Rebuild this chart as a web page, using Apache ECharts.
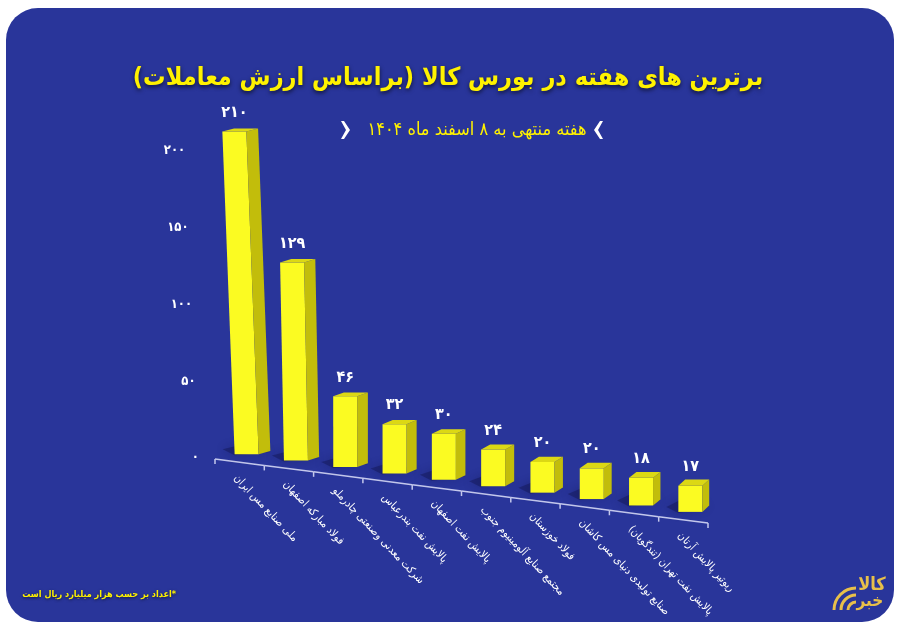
<!DOCTYPE html>
<html>
<head>
<meta charset="utf-8">
<script src="https://cdn.jsdelivr.net/npm/echarts@6/dist/echarts.min.js"></script>
<style>
  html, body { margin: 0; padding: 0; background: #fff; }
  #chart { width: 900px; height: 631px; }
</style>
</head>
<body>
<div id="chart"></div>
<script>
const categories = [
  'ملی صنایع مس ایران',
  'فولاد مبارکه اصفهان',
  'شرکت معدنی وصنعتی چادرملو',
  'پالایش نفت بندرعباس',
  'پالایش نفت اصفهان',
  'مجتمع صنایع آلومینیوم جنوب',
  'فولاد خوزستان',
  'صنایع تولیدی دنیای مس کاشان',
  'پالایش نفت تهران (تندگویان)',
  'ریوتیر پالایش آرتان'
]
const values = [210, 129, 46, 32, 30, 24, 20, 20, 18, 17]
const yTicks = [0, 50, 100, 150, 200]

const RLM = '\u200F'
const FONT = '"DejaVu Sans Condensed", "DejaVu Sans", sans-serif'
const SLOPE = 0.13

const toFa = (n) => String(n).replace(/\d/g, d => '۰۱۲۳۴۵۶۷۸۹'[d])

// slanted floor line of the chart
const axisY = (cs, x) => cs.y + cs.height + 1 + SLOPE * (x - cs.x)

const renderAxis = (params, api) => {
  const cs = params.coordSys
  const i = api.value(0)
  const band = api.size([1, 0])[0]
  const cx = api.coord([i, 0])[0]
  const x1 = cx - band / 2
  const x2 = cx + band / 2
  const stroke = { stroke: '#c4c8ec', lineWidth: 1.5 }
  const children = [
    { type: 'line', shape: { x1, y1: axisY(cs, x1), x2, y2: axisY(cs, x2) }, style: stroke },
    { type: 'line', shape: { x1: x2, y1: axisY(cs, x2), x2: x2, y2: axisY(cs, x2) + 5 }, style: stroke },
    {
      type: 'text',
      x: cx - 4,
      y: axisY(cs, cx) + 14,
      rotation: -Math.PI * 0.26,
      style: {
        text: RLM + categories[i] + RLM,
        fill: '#ffffff',
        font: '11px ' + FONT,
        align: 'left',
        verticalAlign: 'middle'
      }
    }
  ]
  if (i === 0) {
    children.push({ type: 'line', shape: { x1, y1: axisY(cs, x1), x2: x1, y2: axisY(cs, x1) + 5 }, style: stroke })
  }
  return { type: 'group', children }
}

const renderBar = (params, api) => {
  const cs = params.coordSys
  const i = api.value(0)
  const v = api.value(1)
  const p0 = api.coord([i, 0])
  const p1 = api.coord([i, v])
  const cx = p0[0]
  const h = p0[1] - p1[1]
  const base = axisY(cs, cx) - 8
  const top = base - h
  const xl = cx - 5
  const w = 24
  const dx = 12 - 0.011 * (cx - cs.x)
  const dy = -(3 + 0.007 * (cx - cs.x))
  const lean = Math.max(0, 0.00038 * (340 - cx)) * h
  const tl = xl - lean
  return {
    type: 'group',
    children: [
      {
        type: 'polygon',
        shape: { points: [[xl - 12, base - 5], [xl, base + 1], [xl + w + dx, base + dy + 1], [xl + dx - 2, base + dy - 7]] },
        style: { fill: 'rgba(14,18,72,0.4)', shadowBlur: 10, shadowColor: 'rgba(14,18,72,0.8)' }
      },
      {
        type: 'polygon',
        shape: { points: [[xl, base], [xl + w, base], [tl + w, top], [tl, top]] },
        style: { fill: '#fbfb22' }
      },
      {
        type: 'polygon',
        shape: { points: [[xl + w, base], [xl + w + dx, base + dy], [tl + w + dx, top + dy], [tl + w, top]] },
        style: { fill: '#c2bd0b' }
      },
      {
        type: 'polygon',
        shape: { points: [[tl, top], [tl + w, top], [tl + w + dx, top + dy], [tl + dx, top + dy]] },
        style: { fill: '#dcd814' }
      },
      {
        type: 'text',
        style: {
          text: toFa(v),
          x: tl + w / 2,
          y: top - 19,
          fill: '#ffffff',
          font: 'bold 16px ' + FONT,
          align: 'center',
          verticalAlign: 'middle'
        }
      }
    ]
  }
}

const renderYLabel = (params, api) => {
  const cs = params.coordSys
  const v = api.value(1)
  const y = api.coord([0, v])[1]
  const x = cs.x - 16 - 0.045 * (cs.y + cs.height - y)
  return {
    type: 'text',
    style: {
      text: toFa(v),
      x,
      y,
      fill: '#ffffff',
      font: 'bold 13px ' + FONT,
      align: 'right',
      verticalAlign: 'middle'
    }
  }
}

const chart = echarts.init(document.getElementById('chart'))

const option = {
  backgroundColor: '#ffffff',
  animation: false,
  grid: { left: 215, right: 192, top: 120, bottom: 173 },
  xAxis: { type: 'category', data: categories, show: false },
  yAxis: { type: 'value', min: 0, max: 220, show: false },
  graphic: [
    {
      type: 'rect',
      z: -100,
      shape: { x: 6, y: 8, width: 888, height: 614, r: 32 },
      style: { fill: '#29359a' }
    },
    {
      type: 'text',
      x: 448,
      y: 78,
      style: {
        text: RLM + 'برترین های هفته در بورس کالا (براساس ارزش معاملات)' + RLM,
        fill: '#fff200',
        font: 'bold 25px ' + FONT,
        align: 'center',
        verticalAlign: 'middle',
        textShadowColor: 'rgba(0,0,0,0.65)',
        textShadowBlur: 4,
        textShadowOffsetY: 2
      }
    },
    {
      type: 'text',
      x: 477,
      y: 130,
      style: {
        text: RLM + 'هفته منتهی به ۸ اسفند ماه ۱۴۰۴' + RLM,
        fill: '#fff200',
        font: '18px ' + FONT,
        align: 'center',
        verticalAlign: 'middle'
      }
    },
    {
      type: 'polygon',
      shape: { points: [[341, 121], [344, 121], [350, 130], [344, 139], [341, 139], [346, 130]] },
      style: { fill: '#ffffff' }
    },
    {
      type: 'polygon',
      shape: { points: [[603, 121], [600, 121], [594, 130], [600, 139], [603, 139], [598, 130]] },
      style: { fill: '#ffffff' }
    },
    {
      type: 'text',
      x: 176,
      y: 595,
      style: {
        text: RLM + '*اعداد بر حسب هزار میلیارد ریال است' + RLM,
        fill: '#fff200',
        font: 'bold 9px ' + FONT,
        align: 'right',
        verticalAlign: 'middle',
        textShadowColor: 'rgba(0,0,0,0.6)',
        textShadowBlur: 3,
        textShadowOffsetY: 1
      }
    },
    {
      type: 'text',
      x: 872,
      y: 585,
      style: { text: 'کالا', fill: '#e8c04a', font: 'bold 18px ' + FONT, align: 'center', verticalAlign: 'middle' }
    },
    {
      type: 'text',
      x: 870,
      y: 602,
      style: { text: 'خبر', fill: '#e8c04a', font: 'bold 17px ' + FONT, align: 'center', verticalAlign: 'middle' }
    },
    {
      type: 'arc',
      shape: { cx: 856, cy: 610, r: 8, startAngle: Math.PI, endAngle: Math.PI * 1.5 },
      style: { stroke: '#e8c04a', lineWidth: 3, fill: null }
    },
    {
      type: 'arc',
      shape: { cx: 856, cy: 610, r: 15, startAngle: Math.PI, endAngle: Math.PI * 1.5 },
      style: { stroke: '#e8c04a', lineWidth: 3, fill: null }
    },
    {
      type: 'arc',
      shape: { cx: 856, cy: 610, r: 22, startAngle: Math.PI, endAngle: Math.PI * 1.5 },
      style: { stroke: '#e8c04a', lineWidth: 3, fill: null }
    }
  ],
  series: [
    { type: 'custom', renderItem: renderAxis, data: categories.map((c, i) => [i, 0]), z: 1 },
    { type: 'custom', renderItem: renderBar, data: values.map((v, i) => [i, v]), z: 3 },
    { type: 'custom', renderItem: renderYLabel, data: yTicks.map(v => [0, v]), z: 3 }
  ]
}

chart.setOption(option)
window.addEventListener('resize', () => chart.resize())
</script>
</body>
</html>
